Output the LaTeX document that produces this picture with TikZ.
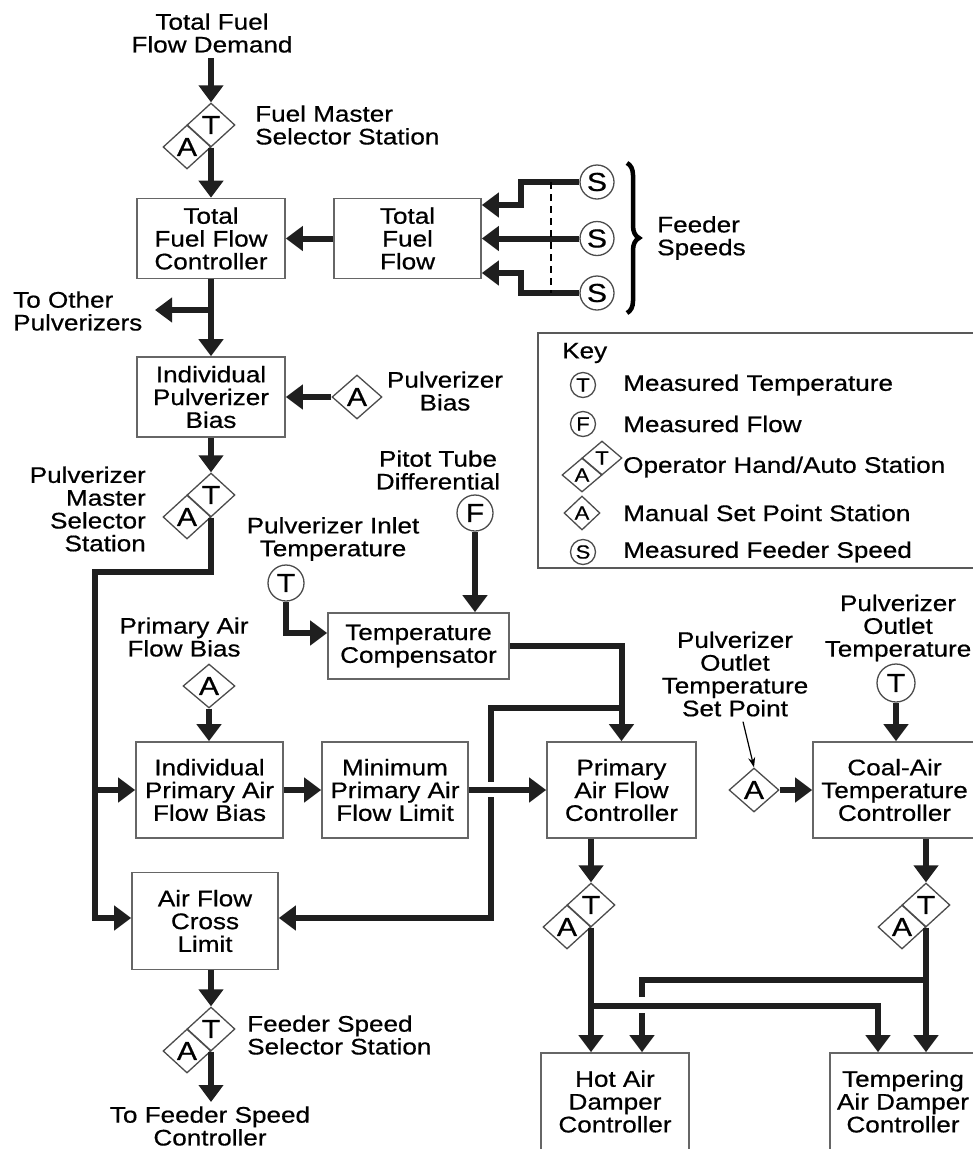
\documentclass[tikz,border=0pt]{standalone}
\usepackage{fontspec}
\setmainfont{Liberation Sans}[FakeStretch=1.16,FakeBold=0.6]
\usetikzlibrary{arrows.meta}
\usetikzlibrary{shapes.geometric}
\usetikzlibrary{decorations.pathreplacing}

\begin{document}
\begin{tikzpicture}[x=1pt,y=-1pt,font=\fontsize{22.5}{22.8}\selectfont,
    sig/.style={line width=6pt,draw=black!88,-{Triangle[width=24pt,length=17pt]}},
    wire/.style={line width=6pt,draw=black!88},
    blk/.style={draw=black!60,line width=1.6pt,align=center,inner sep=0pt},
    dia/.style={diamond,draw=black!70,line width=1.3pt,inner sep=0pt,minimum width=48pt,minimum height=44pt,font=\fontsize{26}{26}\selectfont},
    meas/.style={circle,draw=black!70,line width=1.3pt,inner sep=0pt,minimum size=36pt,font=\fontsize{26}{26}\selectfont},
    lbl/.style={align=center,inner sep=0pt},
    keysym/.style={font=\fontsize{19}{19}\selectfont}]
    \useasboundingbox (0,0) rectangle (973,1149);
    \clip (0,0) rectangle (973,1149);

    \node[lbl] (demand) at (212,33) {Total Fuel\\Flow Demand};
    \coordinate (demandout) at (211,58);
    \node[dia] (fmssT) at (211,125) {T};
    \node[dia] (fmssA) at (187,147) {A};
    \node[lbl,align=left,anchor=west] (fmsslbl) at (255,125) {Fuel Master\\Selector Station};
    \draw[sig] (demandout) -- (fmssT.north);

    \node[blk,minimum width=148pt,minimum height=80pt] (tffc) at (211,238.5) {Total\\Fuel Flow\\Controller};
    \node[blk,minimum width=147pt,minimum height=80pt] (tff) at (407.5,238.5) {Total\\Fuel\\Flow};
    \draw[sig] (fmssT.south) -- (fmssT.south |- tffc.north);
    \draw[sig] (tff.west) -- (tffc.east);

    \node[meas,minimum size=34pt] (s1) at (597,182) {S};
    \node[meas,minimum size=34pt] (s2) at (597,238.5) {S};
    \node[meas,minimum size=34pt] (s3) at (597,293) {S};
    \draw[sig] (s1.west) -- (521,182) |- (tff.east |- 0,205);
    \draw[sig] (s2.west) -- (tff.east |- s2.west);
    \draw[sig] (s3.west) -- (521,293) |- (tff.east |- 0,273);
    \coordinate (ttop) at (551,182);
    \coordinate (tbot) at (551,293);
    \draw[line width=2.2pt,dash pattern=on 7pt off 5pt] (ttop) -- (tbot);
    \draw[line width=4.5pt,decorate,decoration={brace,amplitude=12pt}] (627,163) -- (627,313);
    \node[lbl,align=left,anchor=west] (feeders) at (657,238) {Feeder\\Speeds};

    \node[blk,minimum width=148pt,minimum height=80pt] (ipb) at (211,397) {Individual\\Pulverizer\\Bias};
    \coordinate (tap) at (211,310);
    \coordinate (otherin) at (155,310);
    \node[lbl,align=left,anchor=west] (other) at (13,311) {To Other\\Pulverizers};
    \draw[sig] (tffc.south) -- (ipb.north);
    \draw[sig] (tap) -- (otherin);

    \node[dia,minimum width=50pt] (pbA) at (357,397) {A};
    \node[lbl] (pblbl) at (445,391) {Pulverizer\\Bias};
    \draw[sig] (pbA.west) -- (ipb.east);

    \node[dia] (pmssT) at (211,495) {T};
    \node[dia] (pmssA) at (187,517) {A};
    \node[lbl,align=right,anchor=east] (pmsslbl) at (146,509) {Pulverizer\\Master\\Selector\\Station};
    \draw[sig] (ipb.south) -- (pmssT.north);

    \node[lbl] (pitotlbl) at (438,470) {Pitot Tube\\Differential};
    \node[meas] (pf) at (475,513) {F};
    \node[lbl] (inletlbl) at (333,539) {Pulverizer Inlet\\Temperature};
    \node[meas] (pit) at (286,583) {T};
    \node[blk,minimum width=181pt,minimum height=66pt] (tc) at (418.5,646) {Temperature\\Compensator};
    \draw[sig] (pf.south) -- (pf.south |- tc.north);
    \draw[sig] (pit.south) |- (tc.west |- 0,633);

    \node[lbl] (pafblbl) at (184,637) {Primary Air\\Flow Bias};
    \node[dia,minimum width=52pt] (pafbA) at (209,686) {A};
    \node[blk,minimum width=147pt,minimum height=96pt] (ipafb) at (209.5,790) {Individual\\Primary Air\\Flow Bias};
    \node[blk,minimum width=146pt,minimum height=96pt] (mpafl) at (395,790) {Minimum\\Primary Air\\Flow Limit};
    \node[blk,minimum width=149pt,minimum height=96pt] (pafc) at (621.5,790) {Primary\\Air Flow\\Controller};
    \node[blk,minimum width=146pt,minimum height=97pt] (afcl) at (205,921) {Air Flow\\Cross\\Limit};
    \draw[sig] (pafbA.south) -- (pafbA.south |- ipafb.north);
    \draw[sig] (ipafb.east) -- (mpafl.west);
    \draw[sig] (mpafl.east) -- (pafc.west);
    \draw[sig] (pmssT.south) |- (95,572) |- (afcl.west |- 0,918);
    \coordinate (bus) at (95,790);
    \draw[sig] (bus) -- (ipafb.west);
    \draw[sig] (tc.east) -| (pafc.north);
    \coordinate (jt) at (621.5,708);
    \coordinate (jl) at (491,708);
    \coordinate (gapt) at (491,782);
    \coordinate (gapb) at (491,797);
    \draw[wire] (jt) -- (jl) -- (gapt);
    \draw[sig] (gapb) |- (afcl.east |- 0,918);

    \node[lbl] (sptlbl) at (735,674) {Pulverizer\\Outlet\\Temperature\\Set Point};
    \node[dia,minimum width=50pt] (spA) at (754,790) {A};
    \draw[line width=1.2pt,-{Stealth[length=10pt,width=7pt]}] ([shift={(8,5)}]sptlbl.south) -- (spA.north);
    \node[blk,minimum width=163pt,minimum height=96pt] (cat) at (894.5,790) {Coal-Air\\Temperature\\Controller};
    \draw[sig] (spA.east) -- (cat.west);
    \node[lbl] (potlbl) at (898,628) {Pulverizer\\Outlet\\Temperature};
    \node[meas,minimum size=38pt] (pot) at (896,683) {T};
    \draw[sig] (pot.south) -- (pot.south |- cat.north);

    \node[dia] (hadT) at (591,905) {T};
    \node[dia] (hadA) at (567,927) {A};
    \node[dia] (tadT) at (926,905) {T};
    \node[dia] (tadA) at (902,927) {A};
    \draw[sig] (pafc.south -| hadT.north) -- (hadT.north);
    \draw[sig] (cat.south -| tadT.north) -- (tadT.north);
    \node[blk,minimum width=148pt,minimum height=97pt] (had) at (615,1101.5) {Hot Air\\Damper\\Controller};
    \node[blk,minimum width=146pt,minimum height=97pt] (tad) at (903,1101.5) {Tempering\\Air Damper\\Controller};
    \draw[sig] (hadT.south) -- (hadT.south |- had.north);
    \draw[sig] (tadT.south) -- (tadT.south |- tad.north);
    \coordinate (hx) at (591,1006);
    \coordinate (tx) at (926,980);
    \coordinate (hgt) at (642,997);
    \coordinate (hgb) at (642,1013);
    \draw[sig] (hx) -| (tad.north -| 878,0);
    \draw[wire] (tx) -| (hgt);
    \draw[sig] (hgb) -- (had.north -| hgb);

    \node[dia] (fssT) at (211,1029) {T};
    \node[dia] (fssA) at (187,1051) {A};
    \node[lbl,align=left,anchor=west] (fsslbl) at (247,1035) {Feeder Speed\\Selector Station};
    \draw[sig] (afcl.south -| fssT.north) -- (fssT.north);
    \coordinate (fssout) at (211,1102);
    \draw[sig] (fssT.south) -- (fssout);
    \node[lbl] (tofsc) at (210,1126) {To Feeder Speed\\Controller};

    \draw[draw=black!65,line width=1.6pt] (538,333) rectangle (990,568);
    \node[lbl,anchor=west] (keyhd) at (562,353) {Key};
    \node[meas,keysym,minimum size=25pt] (kT) at (583,385) {T};
    \node[lbl,anchor=west] (kTtxt) at (623,385) {Measured Temperature};
    \node[meas,keysym,minimum size=25pt] (kF) at (583,424) {F};
    \node[lbl,anchor=west] (kFtxt) at (623,424) {Measured Flow};
    \node[dia,keysym,minimum width=40pt,minimum height=34pt] (kATt) at (602,458) {T};
    \node[dia,keysym,minimum width=40pt,minimum height=34pt] (kATa) at (582,475) {A};
    \node[lbl,anchor=west] (kATtxt) at (623,467) {Operator Hand/Auto Station};
    \node[dia,keysym,minimum width=36pt,minimum height=34pt] (kA) at (582,513) {A};
    \node[lbl,anchor=west] (kAtxt) at (623,513) {Manual Set Point Station};
    \node[meas,keysym,minimum size=25pt] (kS) at (583,552) {S};
    \node[lbl,anchor=west] (kStxt) at (623,552) {Measured Feeder Speed};
\end{tikzpicture}
\end{document}
